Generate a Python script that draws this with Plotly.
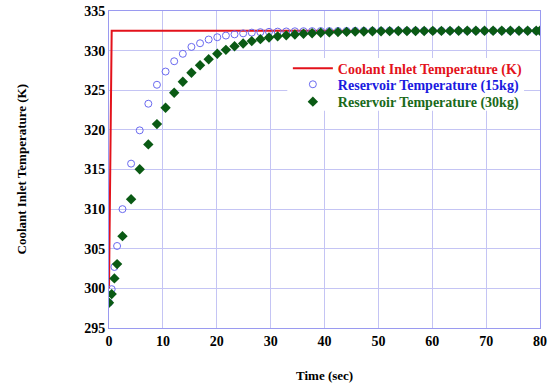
import plotly.graph_objects as go

time_s = [0, 0.5, 1.0, 1.5, 2.5, 4.1, 5.7, 7.3, 8.9, 10.5, 12.1, 13.7, 15.3, 16.9,
          18.5, 20.1, 21.7, 23.3, 24.9, 26.5, 28.1, 29.7, 31.3, 32.9, 34.5, 36.1,
          37.7, 39.3, 40.9, 42.5, 44.1, 45.7, 47.3, 48.9, 50.5, 52.1, 53.7, 55.3,
          56.9, 58.5, 60.1, 61.7, 63.3, 64.9, 66.5, 68.1, 69.7, 71.3, 72.9, 74.5,
          76.1, 77.7, 79.3, 80.0]

res_15kg = [298.2, 299.9, 302.7, 305.35, 310.0, 315.74, 319.94, 323.3, 325.69, 327.36,
            328.66, 329.6, 330.47, 330.93, 331.4, 331.69, 331.9, 332.05, 332.18, 332.27,
            332.33, 332.37, 332.4, 332.42, 332.44, 332.45, 332.46, 332.47, 332.47, 332.48,
            332.48, 332.49, 332.49, 332.49, 332.5, 332.5, 332.5, 332.5, 332.5, 332.5,
            332.5, 332.5, 332.5, 332.5, 332.5, 332.5, 332.5, 332.5, 332.5, 332.5,
            332.5, 332.5, 332.5, 332.5]

res_30kg = [298.19, 299.28, 301.26, 303.06, 306.59, 311.25, 315.03, 318.17, 320.73, 322.8,
            324.69, 326.08, 327.2, 328.16, 328.92, 329.6, 330.1, 330.55, 330.9, 331.2,
            331.45, 331.65, 331.8, 331.93, 332.03, 332.12, 332.19, 332.25, 332.3, 332.34,
            332.37, 332.4, 332.42, 332.44, 332.45, 332.46, 332.47, 332.47, 332.48, 332.48,
            332.49, 332.49, 332.49, 332.5, 332.5, 332.5, 332.5, 332.5, 332.5, 332.5,
            332.5, 332.5, 332.5, 332.5]

inlet_t = [0, 0.5, 80]
inlet_T = [300.0, 332.5, 332.5]

x_ticks = [0, 10, 20, 30, 40, 50, 60, 70, 80]
y_ticks = [295, 300, 305, 310, 315, 320, 325, 330, 335]

FONT = "Liberation Serif"
grid_c = "#c4c4f4"
frame_c = "#9a9af0"

fig = go.Figure()
fig.add_trace(go.Scatter(x=inlet_t, y=inlet_T, mode="lines",
                         line=dict(color="#e3121b", width=2), legend="legend",
                         name='<span style="color:#e3121b">Coolant Inlet Temperature (K)</span>'))
fig.add_trace(go.Scatter(x=time_s, y=res_15kg, mode="markers",
                         marker=dict(symbol="circle-open", size=7, color="#6a6af0",
                                     line=dict(width=1, color="#6a6af0")),
                         legend="legend2",
                         name='<span style="color:#1a1ae0">Reservoir Temperature (15kg)</span>'))
fig.add_trace(go.Scatter(x=time_s, y=res_30kg, mode="markers",
                         marker=dict(symbol="diamond", size=8, color="#0a5a14"),
                         legend="legend3",
                         name='<span style="color:#1a6a1a">Reservoir Temperature (30kg)</span>'))

def leg(y):
    return dict(x=0.415, y=y, xanchor="left", yanchor="middle",
                bgcolor="rgba(0,0,0,0)", borderwidth=0,
                font=dict(family=FONT, size=14, weight="bold"), itemwidth=40)

fig.update_layout(
    width=551, height=384,
    margin=dict(l=108.5, r=11, t=10.5, b=56),
    plot_bgcolor="white", paper_bgcolor="white",
    font=dict(family=FONT, size=14, color="black", weight="bold"),
    showlegend=True,
    legend=leg(0.818), legend2=leg(0.7676), legend3=leg(0.7128),
    shapes=[dict(type="rect", xref="paper", yref="paper", x0=0.4137, x1=0.963,
                 y0=0.685, y1=0.852, fillcolor="white", line=dict(width=0),
                 layer="above")],
    xaxis=dict(range=[0, 80], tickvals=x_ticks, showgrid=True, gridcolor=grid_c,
               gridwidth=1, zeroline=False, showline=True, linecolor=frame_c,
               linewidth=1, mirror=True, ticks="", tickfont=dict(size=14),
               automargin=False),
    yaxis=dict(range=[295, 335], tickvals=y_ticks, showgrid=True, gridcolor=grid_c,
               gridwidth=1, zeroline=False, showline=True, linecolor=frame_c,
               linewidth=1, mirror=True, ticks="", tickfont=dict(size=14),
               automargin=False),
    annotations=[
        dict(text="Time (sec)", xref="paper", yref="paper", x=0.5, y=0,
             yshift=-47, xanchor="center", yanchor="middle", showarrow=False,
             font=dict(size=13)),
        dict(text="Coolant Inlet Temperature (K)", xref="paper", yref="paper",
             x=0, y=0.5, xshift=-88, textangle=-90, xanchor="center",
             yanchor="middle", showarrow=False, font=dict(size=13)),
    ],
)

fig.write_html("out.html")
